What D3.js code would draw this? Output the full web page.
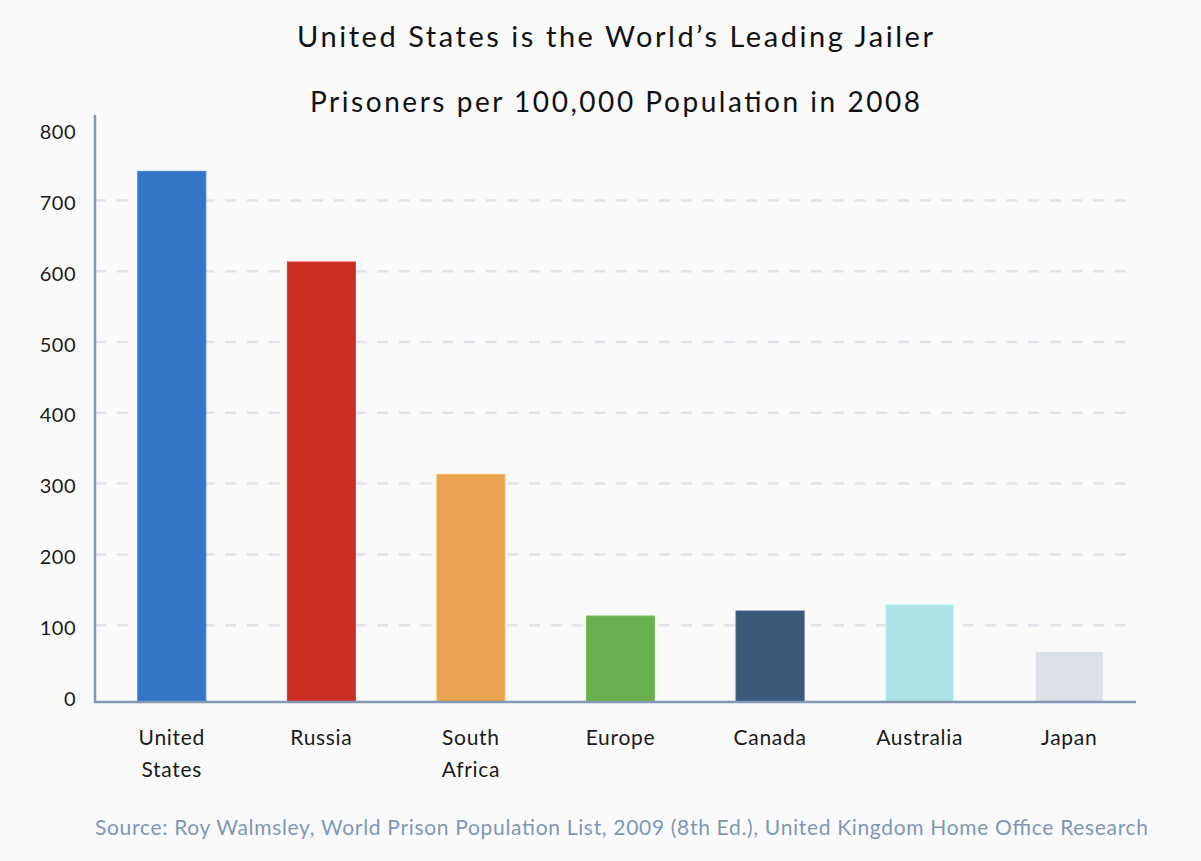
<!DOCTYPE html>
<html>
<head>
<meta charset="utf-8">
<script src="https://cdn.jsdelivr.net/npm/d3@7"></script>
<style>
  body { margin: 0; background: #fafafb; }
  svg { display: block; font-family: Lato, "Noto Sans", sans-serif; }
</style>
</head>
<body>
<div id="chart"></div>
<script>
// chart data
const regions = ["United States", "Russia", "South Africa", "Europe", "Canada", "Australia", "Japan"];
const prisoners = [741, 613, 313, 113, 120, 129, 63];
const barColors = ["#3375c6", "#c92f24", "#eba450", "#6aaf4f", "#3a5879", "#aee4e6", "#dce0e7"];
const yTicks = [0, 100, 200, 300, 400, 500, 600, 700, 800];

const width = 1201, height = 861;
const axisColor = "#8398b3";

const svg = d3.select("#chart").append("svg")
  .attr("width", width)
  .attr("height", height);

svg.append("rect").attr("width", width).attr("height", height).attr("fill", "#fafafb");

const x = d3.scaleBand()
  .domain(regions)
  .range([97, 1144])
  .paddingInner(0.545)
  .paddingOuter(0.2725);

const y = d3.scaleLinear()
  .domain([0, 800])
  .range([696, 129.6]);

// dashed gridlines (skip 0 and 800)
svg.append("g")
  .selectAll("line")
  .data(yTicks.filter(d => d > 0 && d < 800))
  .enter()
  .append("line")
  .attr("x1", 95)
  .attr("x2", 1136)
  .attr("y1", d => y(d))
  .attr("y2", d => y(d))
  .attr("stroke", "#dfe3ea")
  .attr("stroke-width", 2.5)
  .attr("stroke-dasharray", "11,10.7");

// bars
svg.append("g")
  .selectAll("rect")
  .data(regions)
  .enter()
  .append("rect")
  .attr("x", d => x(d))
  .attr("y", (d, i) => y(prisoners[i]))
  .attr("width", x.bandwidth())
  .attr("height", (d, i) => 702 - y(prisoners[i]))
  .attr("fill", (d, i) => barColors[i])
  .attr("stroke", (d, i) => d3.color(barColors[i]).brighter(0.3))
  .attr("stroke-width", 1);

// y axis labels
const yAxis = svg.append("g")
  .attr("transform", "translate(95,0)")
  .call(d3.axisLeft(y).tickValues(yTicks).tickSize(0).tickPadding(19));
yAxis.select(".domain").remove();
yAxis.selectAll("text")
  .attr("dy", "0.45em")
  .attr("font-family", "Lato, 'Noto Sans', sans-serif")
  .attr("font-size", 20)
  .attr("letter-spacing", 0.5)
  .attr("fill", "#1a1a1a");

// axis lines
svg.append("line")
  .attr("x1", 95).attr("x2", 95)
  .attr("y1", 115).attr("y2", 703)
  .attr("stroke", axisColor).attr("stroke-width", 2.5);
svg.append("line")
  .attr("x1", 94).attr("x2", 1136)
  .attr("y1", 702).attr("y2", 702)
  .attr("stroke", axisColor).attr("stroke-width", 2.5);

// x labels, split to two lines
const xl = svg.append("g")
  .selectAll("text")
  .data(regions)
  .enter()
  .append("text")
  .attr("text-anchor", "middle")
  .attr("font-size", 21)
  .attr("letter-spacing", 0.7)
  .attr("fill", "#1a1a1a");
xl.each(function(d) {
  const words = d.split(" ");
  const t = d3.select(this);
  words.forEach((w, k) => {
    t.append("tspan")
      .attr("x", x(d) + x.bandwidth() / 2)
      .attr("y", 745 + k * 32)
      .text(w);
  });
});

// titles (stretched with spacing to the reference widths)
svg.append("text")
  .attr("x", 615).attr("y", 47)
  .attr("text-anchor", "middle")
  .attr("font-size", 29)
  .attr("fill", "#111")
  .attr("textLength", 636)
  .attr("lengthAdjust", "spacing")
  .text("United States is the World\u2019s Leading Jailer");

svg.append("text")
  .attr("x", 615).attr("y", 112)
  .attr("text-anchor", "middle")
  .attr("font-size", 28)
  .attr("fill", "#111")
  .attr("textLength", 610)
  .attr("lengthAdjust", "spacing")
  .text("Prisoners per 100,000 Population in 2008");

svg.append("text")
  .attr("x", 95).attr("y", 835)
  .attr("font-size", 21)
  .attr("fill", "#7f97b4")
  .attr("textLength", 1053)
  .attr("lengthAdjust", "spacing")
  .text("Source: Roy Walmsley, World Prison Population List, 2009 (8th Ed.), United Kingdom Home Office Research");
</script>
</body>
</html>
